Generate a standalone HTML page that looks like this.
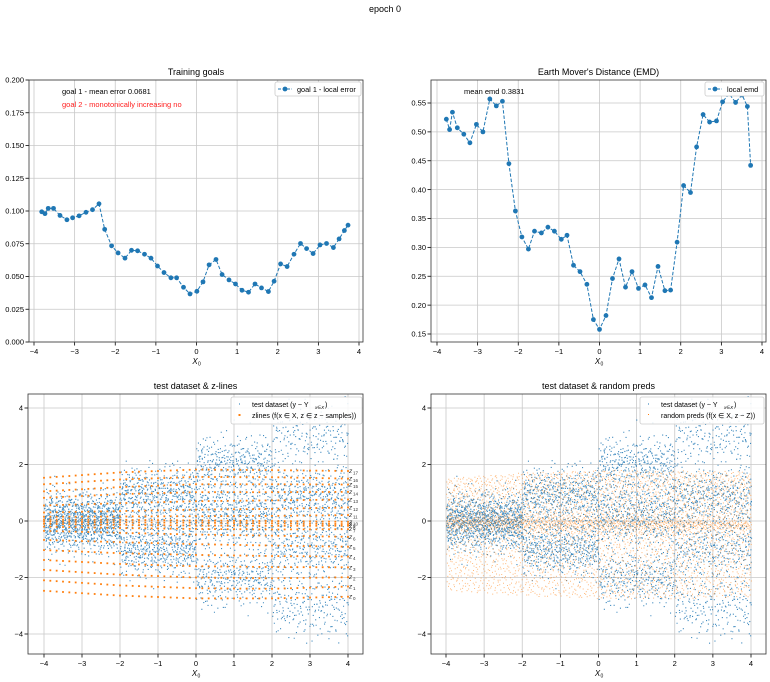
<!DOCTYPE html>
<html><head><meta charset="utf-8">
<style>
html,body{margin:0;padding:0;background:#fff;}
svg{display:block;font-family:"Liberation Sans","DejaVu Sans",sans-serif;}
</style></head>
<body>
<svg id="fig" width="770" height="682" viewBox="0 0 770 682" xmlns="http://www.w3.org/2000/svg">
<text x="385" y="12" text-anchor="middle" font-size="9">epoch 0</text>
</svg>
<script>
// ---- data ----
const goalX = [-3.81,-3.73,-3.65,-3.52,-3.36,-3.19,-3.05,-2.89,-2.72,-2.56,-2.40,-2.26,-2.09,-1.93,-1.76,-1.60,-1.45,-1.28,-1.12,-0.96,-0.80,-0.63,-0.49,-0.32,-0.16,0.01,0.16,0.31,0.48,0.63,0.80,0.96,1.12,1.28,1.44,1.60,1.77,1.91,2.07,2.23,2.40,2.56,2.71,2.87,3.04,3.20,3.37,3.51,3.64,3.73];
const goalErr = [0.0994,0.098,0.102,0.102,0.0966,0.0933,0.0948,0.0963,0.099,0.101,0.1055,0.086,0.0734,0.068,0.064,0.070,0.0696,0.067,0.064,0.058,0.053,0.049,0.049,0.0418,0.0367,0.0387,0.0459,0.0589,0.063,0.0515,0.0474,0.0443,0.0395,0.038,0.0443,0.0413,0.0385,0.0464,0.0596,0.0576,0.067,0.0752,0.0713,0.0675,0.0741,0.0752,0.0721,0.0787,0.0851,0.0892];
const emdX = [-3.77,-3.69,-3.62,-3.50,-3.34,-3.19,-3.03,-2.87,-2.70,-2.54,-2.39,-2.23,-2.07,-1.91,-1.75,-1.60,-1.43,-1.27,-1.11,-0.94,-0.80,-0.64,-0.48,-0.31,-0.15,0,0.16,0.32,0.48,0.64,0.80,0.96,1.12,1.28,1.44,1.61,1.75,1.91,2.07,2.24,2.39,2.55,2.71,2.88,3.03,3.19,3.35,3.51,3.64,3.72];
const emdVal = [0.522,0.504,0.534,0.507,0.496,0.481,0.513,0.500,0.557,0.545,0.553,0.445,0.363,0.318,0.297,0.328,0.325,0.335,0.328,0.314,0.321,0.269,0.258,0.236,0.175,0.158,0.182,0.246,0.280,0.231,0.258,0.229,0.235,0.213,0.267,0.225,0.226,0.309,0.407,0.395,0.474,0.530,0.517,0.519,0.552,0.566,0.551,0.564,0.544,0.442];
const zKnotX = [-4,-2,0,2,4];
const zAtM4 = [-2.47,-2.1,-1.73,-1.38,-1.03,-0.67,-0.35,-0.2,-0.1,-0.02,0.05,0.15,0.3,0.55,0.82,1.05,1.3,1.53];
const zAtM2 = [-2.64,-2.28,-1.9,-1.52,-1.14,-0.75,-0.42,-0.25,-0.14,-0.05,0.04,0.16,0.35,0.63,0.95,1.2,1.47,1.72];
const zAt0 = [-2.74,-2.38,-2.0,-1.6,-1.2,-0.82,-0.48,-0.28,-0.16,-0.06,0.02,0.17,0.4,0.7,1.02,1.3,1.56,1.82];
const zAt2 = [-2.74,-2.4,-2.03,-1.63,-1.24,-0.87,-0.52,-0.3,-0.17,-0.08,0.0,0.18,0.43,0.73,1.02,1.3,1.55,1.8];
const zAt4 = [-2.68,-2.32,-1.99,-1.64,-1.26,-0.91,-0.56,-0.29,-0.17,-0.11,-0.03,0.21,0.48,0.76,1.03,1.29,1.5,1.77];
// test dataset clusters: x range, mean y, spread, count
const clX0 = [-4,-2,-2,-2,0,0,0,0,2,2,2,2,2];
const clX1 = [-2,0,0,0,2,2,2,2,4,4,4,4,4];
const clMean = [0,1.0,-1.0,0,2.1,0.1,-2.0,0.9,3.0,1.0,-1.0,-3.0,0.2];
const clSd = [0.5,0.45,0.45,0.35,0.45,0.5,0.5,0.5,0.55,0.45,0.5,0.6,0.5];
const clN = [1100,480,480,120,330,380,330,150,200,300,300,220,150];

const NS='http://www.w3.org/2000/svg';
const fig=document.getElementById('fig');
function el(tag,attrs,parent){const e=document.createElementNS(NS,tag);for(const k in attrs)e.setAttribute(k,attrs[k]);(parent||fig).appendChild(e);return e;}
function txt(s,attrs,parent){const e=el('text',attrs,parent);e.textContent=s;return e;}
function fmtMinus(v){return String(v).replace('-','\u2212');}

function axes(o){
  const g=el('g',{});
  
  
  const sx=v=>o.px0+(v-o.x0)*(o.px1-o.px0)/(o.x1-o.x0);
  const sy=v=>o.py0+(v-o.y0)*(o.py1-o.py0)/(o.y1-o.y0);
  o.xt.forEach(v=>{const x=sx(v);
    const l=el('line',{x1:x,x2:x,y1:o.T,y2:o.B,stroke:'#c8c8c8','stroke-width':0.8},g);
    
    el('line',{x1:x,x2:x,y1:o.B,y2:o.B+3.5,stroke:'#000','stroke-width':0.8},g);
    const t=txt(fmtMinus(v),{x:x,y:o.B+12,'text-anchor':'middle','font-size':7.5},g);
    });
  o.yt.forEach(v=>{const y=sy(v);
    const l=el('line',{x1:o.L,x2:o.R,y1:y,y2:y,stroke:'#c8c8c8','stroke-width':0.8},g);
    
    el('line',{x1:o.L-3.5,x2:o.L,y1:y,y2:y,stroke:'#000','stroke-width':0.8},g);
    const t=txt(fmtMinus(o.yf(v)),{x:o.L-5,y:y+2.7,'text-anchor':'end','font-size':7.5},g);
    });
  const t=txt(o.title,{x:(o.L+o.R)/2,y:o.T-5,'text-anchor':'middle','font-size':9},g);
  
  const xl=txt('X',{x:(o.L+o.R)/2-1,y:o.B+22,'text-anchor':'middle','font-size':8,'font-style':'italic'},g);
  
  txt('0',{x:(o.L+o.R)/2+2,y:o.B+23.5,'font-size':5},g);
  const plot=el('g',{},g);
  
  const fr=el('rect',{x:o.L,y:o.T,width:o.R-o.L,height:o.B-o.T,fill:'none',stroke:'#333','stroke-width':0.8});
  
  return {sx,sy,plot,g,o};
}
const range=(a,b,s)=>{const r=[];for(let v=a;v<=b+1e-9;v+=s)r.push(Math.round(v*1000)/1000);return r;};

// Top-left
const A1=axes({name:'training-goals-chart',title:'Training goals',L:29,R:363,T:80,B:342,x0:-4,x1:4,px0:34,px1:359,y0:0,y1:0.2,py0:342,py1:80,xt:range(-4,4,1),yt:range(0,0.2,0.025),yf:v=>v.toFixed(3)});
{let d='';goalX.forEach((x,i)=>{d+=(i?'L':'M')+A1.sx(x)+' '+A1.sy(goalErr[i]);});
 const p=el('path',{d,fill:'none',stroke:'#1f77b4','stroke-width':1,'stroke-dasharray':'3.5,1.8'},A1.plot);
 
 goalX.forEach((x,i)=>{const c=el('circle',{cx:A1.sx(x),cy:A1.sy(goalErr[i]),r:2.4,fill:'#1f77b4'},A1.plot);
  });
 const t1=txt('goal 1 - mean error 0.0681',{x:62,y:94,'font-size':7.5},A1.g);
 
 const t2=txt('goal 2 - monotonically increasing no',{x:62,y:107,'font-size':7.5,fill:'#ff2020'},A1.g);
 
 const lg=el('g',{},A1.g);
 el('rect',{x:275,y:82,width:86,height:14,fill:'#fff',stroke:'#ccc','stroke-width':0.8,rx:2},lg);
 el('line',{x1:278,x2:292,y1:89,y2:89,stroke:'#1f77b4','stroke-dasharray':'3,1.5'},lg);
 el('circle',{cx:285,cy:89,r:2.4,fill:'#1f77b4'},lg);
 const le=txt('goal 1 - local error',{x:297,y:92,'font-size':7.3},lg);
}

// Top-right
const A2=axes({name:'emd-chart',title:"Earth Mover's Distance (EMD)",L:431,R:766,T:80,B:342,x0:-4,x1:4,px0:437,px1:762,y0:0.15,y1:0.55,py0:334,py1:103,xt:range(-4,4,1),yt:range(0.15,0.55,0.05),yf:v=>v.toFixed(2)});
{let d='';emdX.forEach((x,i)=>{d+=(i?'L':'M')+A2.sx(x)+' '+A2.sy(emdVal[i]);});
 const p=el('path',{d,fill:'none',stroke:'#1f77b4','stroke-width':1,'stroke-dasharray':'3.5,1.8'},A2.plot);
 
 emdX.forEach((x,i)=>{const c=el('circle',{cx:A2.sx(x),cy:A2.sy(emdVal[i]),r:2.4,fill:'#1f77b4'},A2.plot);
  });
 const t1=txt('mean emd 0.3831',{x:464,y:94,'font-size':7.5},A2.g);
 
 const lg=el('g',{},A2.g);
 el('rect',{x:705,y:82,width:59,height:14,fill:'#fff',stroke:'#ccc','stroke-width':0.8,rx:2},lg);
 el('line',{x1:708,x2:722,y1:89,y2:89,stroke:'#1f77b4','stroke-dasharray':'3,1.5'},lg);
 el('circle',{cx:715,cy:89,r:2.4,fill:'#1f77b4'},lg);
 const le=txt('local emd',{x:727,y:92,'font-size':7.3},lg);
}

// deterministic quasi-random helpers (Halton)
function halton(i,b){let f=1,r=0;while(i>0){f/=b;r+=f*(i%b);i=Math.floor(i/b);}return r;}
function normFromU(u1,u2){u1=Math.max(u1,1e-6);return Math.sqrt(-2*Math.log(u1))*Math.cos(2*Math.PI*u2);}
const zTable=[zAtM4,zAtM2,zAt0,zAt2,zAt4];
function zAt(j,x){let k=Math.min(3,Math.max(0,Math.floor((x+4)/2)));const t=(x-zKnotX[k])/2;return zTable[k][j]*(1-t)+zTable[k+1][j]*t;}

function testDataset(A){
  const g=el('g',{},A.plot);
  let idx=1;let d='';
  clN.forEach((n,c)=>{for(let i=0;i<n;i++,idx++){
    const x=clX0[c]+(clX1[c]-clX0[c])*halton(idx,2);
    const y=clMean[c]+clSd[c]*normFromU(halton(idx,3),halton(idx,5));
    const px=A.sx(x),py=A.sy(y);
    if(py<A.o.T||py>A.o.B)continue;
    d+='M'+px.toFixed(1)+' '+py.toFixed(1)+'h1.1v1.1h-1.1z';}});
  el('path',{d,fill:'#1f77b4','fill-opacity':0.85},g);
}

// Bottom-left
const A3=axes({name:'zlines-chart',title:'test dataset & z-lines',L:28,R:363,T:394,B:654,x0:-4,x1:4,px0:44,px1:348,y0:-4,y1:4,py0:634,py1:408,xt:range(-4,4,1),yt:[-4,-2,0,2,4],yf:v=>v});
testDataset(A3);
{const g=el('g',{},A3.plot);
 for(let j=0;j<zAtM4.length;j++){
  const line=el('g',{},g);
  for(let k=0;k<=48;k++){const x=-4+k*8/48;
   el('rect',{x:A3.sx(x)-0.9,y:A3.sy(zAt(j,x))-0.9,width:1.8,height:1.8,fill:'#ff7f0e'},line);}
  const lb=txt('z',{x:349,y:A3.sy(zAt(j,4))+2,'font-size':6.5,'font-style':'italic',fill:'#333'},line);
  
  txt(String(j),{x:353,y:A3.sy(zAt(j,4))+3.5,'font-size':4.5,fill:'#333'},line);
 }
 const lg=el('g',{},A3.g);
 el('rect',{x:231,y:397,width:131,height:27,fill:'#fff','fill-opacity':0.85,stroke:'#ccc','stroke-width':0.8,rx:2},lg);
 el('rect',{x:239,y:403.5,width:1,height:1,fill:'#1f77b4'},lg);
 el('rect',{x:238.5,y:414,width:2,height:2,fill:'#ff7f0e'},lg);
 const a=txt('test dataset (y ~ Y',{x:252,y:407,'font-size':7},lg);
 txt('x∈X',{x:315,y:409,'font-size':4.5,'font-style':'italic'},lg);txt(')',{x:325,y:407,'font-size':7},lg);
 const b=txt('zlines (f(x ∈ X, z ∈ z − samples))',{x:252,y:418,'font-size':7},lg);
}

// Bottom-right
const A4=axes({name:'random-preds-chart',title:'test dataset & random preds',L:431,R:766,T:394,B:654,x0:-4,x1:4,px0:446,px1:751,y0:-4,y1:4,py0:634,py1:408,xt:range(-4,4,1),yt:[-4,-2,0,2,4],yf:v=>v});
testDataset(A4);
{const g=el('g',{},A4.plot);
 let d='';const nz=zAtM4.length;
 for(let i=1;i<=4200;i++){const x=-4+8*halton(i,2);const u=halton(i,3)*(nz-1);const j=Math.floor(u),t=u-j;
  const y=j>=nz-1?zAt(nz-1,x):zAt(j,x)*(1-t)+zAt(j+1,x)*t;
  d+='M'+A4.sx(x).toFixed(1)+' '+A4.sy(y).toFixed(1)+'h1v1h-1z';}
 el('path',{d,fill:'#ff7f0e','fill-opacity':0.55},g);
 const lg=el('g',{},A4.g);
 el('rect',{x:640,y:397,width:124,height:27,fill:'#fff','fill-opacity':0.85,stroke:'#ccc','stroke-width':0.8,rx:2},lg);
 el('rect',{x:648,y:403.5,width:1,height:1,fill:'#1f77b4'},lg);
 el('rect',{x:648,y:414,width:1,height:1,fill:'#ff7f0e'},lg);
 const a=txt('test dataset (y ~ Y',{x:661,y:407,'font-size':7},lg);
 txt('x∈X',{x:724,y:409,'font-size':4.5,'font-style':'italic'},lg);txt(')',{x:734,y:407,'font-size':7},lg);
 const b=txt('random preds (f(x ∈ X, z ~ Z))',{x:661,y:418,'font-size':7},lg);
}
</script>
</body></html>
